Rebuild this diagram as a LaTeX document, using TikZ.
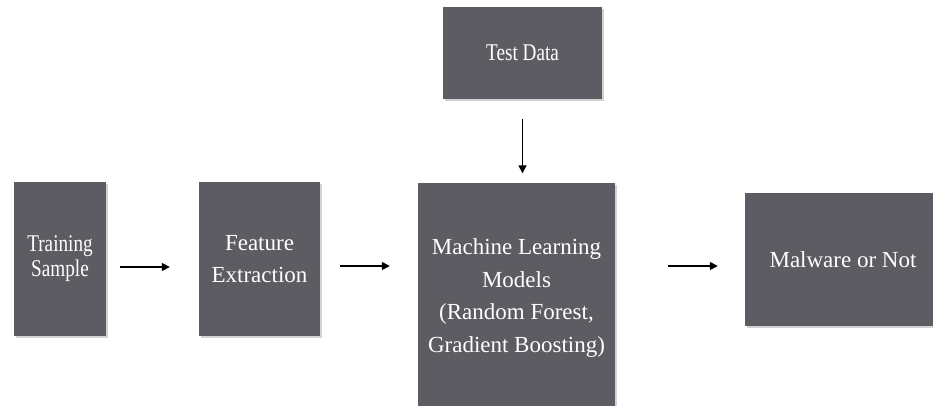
\documentclass[tikz,border=0pt]{standalone}
\usepackage{fontspec}
\newfontfamily\diagfont{Liberation Serif}
\newfontfamily\narrowserif[FakeStretch=0.8]{Liberation Serif}
\usetikzlibrary{arrows.meta,shadows,calc}
\definecolor{boxgray}{RGB}{92,92,98}
\tikzset{
  x=1pt, y=-1pt,
  block/.style={rectangle, fill=boxgray, text=white, align=center, inner sep=0pt,
    drop shadow={opacity=0.35, shadow xshift=1.5pt, shadow yshift=-2pt}},
  wide/.style={font=\diagfont\fontsize{23}{32.5}\selectfont},
  narrow/.style={font=\narrowserif\fontsize{24}{25}\selectfont},
  flow/.style={draw=black, line width=1.6pt, -{Triangle[length=8pt,width=8pt]}}
}
\begin{document}
\begin{tikzpicture}
\useasboundingbox (0,0) rectangle (933,405);
\clip (0,0) rectangle (933,405);
\node[block, narrow, minimum width=92pt, minimum height=154pt] (ts) at (60,259) {Training\\Sample};
\node[block, wide, minimum width=121pt, minimum height=154pt] (fe) at (259.5,259) {Feature\\Extraction};
\node[block, wide, minimum width=197pt, minimum height=231pt] (ml) at (516.5,298)
  {Machine Learning\\Models\\(Random Forest,\\Gradient Boosting)};
\node[block, narrow, minimum width=159pt, minimum height=92pt] (td) at (522.5,53) {Test Data};
\node[block, wide, minimum width=196pt, minimum height=133pt] (mw) at (843,259.5) {Malware or Not};

\draw[flow, shorten <=14pt, shorten >=29pt] ([yshift=-8pt]ts.east) -- ([yshift=-8pt]fe.west);
\draw[flow, shorten <=20pt, shorten >=28pt] ([yshift=-7pt]fe.east) -- ($(ml.west |- fe.east)+(0,7)$);
\draw[flow, shorten <=53pt, shorten >=27pt] ($(ml.east |- mw.west)+(0,6.5)$) -- ([yshift=-6.5pt]mw.west);
\draw[flow, shorten <=20pt, shorten >=9pt] (td.south) -- (td.south |- ml.north);
\end{tikzpicture}
\end{document}
